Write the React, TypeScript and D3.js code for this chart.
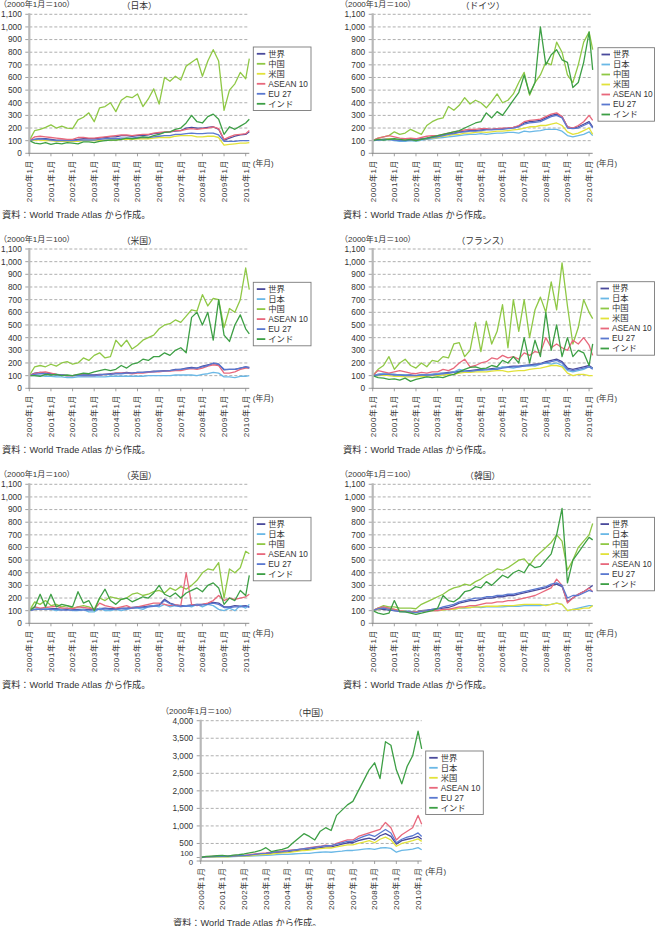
import React from 'react';
import * as d3 from 'd3';

// ---------- shared labels ----------
const SERIES_COLORS: Record<string, string> = {
  '世界': '#4a4a9c',
  '日本': '#6ab8e6',
  '中国': '#8fc845',
  '米国': '#e2e23a',
  'ASEAN 10': '#e8687c',
  'EU 27': '#5a78d0',
  'インド': '#3d9f45',
};
// data points: quarterly from 2000年1月 (month 0) to 2010年1月 (month 120), plus 2010年3月
const MONTHS: number[] = [...d3.range(0, 121, 3), 122];
const YEARS: number[] = d3.range(2000, 2011);
const YEAR_LABELS: string[] = YEARS.map((y) => `${y}年1月`);
const Y_TICKS_STD: number[] = d3.range(0, 1101, 100);
const Y_TICKS_CN: number[] = [0, 100, 500, 1000, 1500, 2000, 2500, 3000, 3500, 4000];
const Y_UNIT = '（2000年1月＝100）';
const X_UNIT = '(年月)';
const SOURCE = '資料：World Trade Atlas から作成。';

// ---------- 日本 ----------
const JP_WORLD = [100,110,115,115,110,105,105,105,105,110,115,115,115,120,125,130,130,140,140,135,140,140,145,155,160,165,170,175,180,200,205,200,200,205,210,190,105,120,135,145,150,170];
const JP_CHINA = [100,180,190,205,225,200,215,200,195,265,285,320,250,360,370,400,330,420,450,440,470,370,430,510,390,600,570,610,580,690,720,750,610,730,820,730,340,500,550,640,590,750];
const JP_US = [100,105,105,100,100,95,95,95,95,95,100,100,100,100,105,105,105,110,110,110,115,115,115,120,125,125,125,135,140,140,140,130,130,135,135,125,65,70,75,80,80,85];
const JP_ASEAN = [100,130,135,130,125,120,115,110,110,125,125,120,120,125,130,135,140,145,145,140,145,150,150,160,165,170,170,180,180,190,195,190,195,200,210,195,110,130,145,150,155,180];
const JP_EU = [100,110,115,110,105,100,100,100,100,105,105,105,105,110,115,115,115,120,120,120,125,125,125,130,135,140,140,150,150,155,160,155,155,160,160,145,95,95,95,100,100,100];
const JP_INDIA = [100,80,75,85,70,80,75,85,80,75,90,90,85,95,100,105,105,110,120,115,120,130,125,140,150,165,170,190,200,240,300,250,240,290,310,270,150,210,190,215,240,270];

// ---------- ドイツ ----------
const DE_WORLD = [100,110,110,115,110,105,105,110,110,115,120,130,135,145,155,160,170,175,180,180,185,190,190,195,195,200,205,215,240,250,255,260,280,300,310,290,210,200,210,230,250,210];
const DE_JAPAN = [100,105,105,110,100,95,95,100,95,105,110,115,120,125,130,135,140,145,150,150,155,150,155,160,160,165,165,160,175,170,175,180,190,190,190,175,140,130,140,150,170,140];
const DE_CHINA = [100,120,130,140,170,150,160,190,170,150,220,250,270,280,370,340,380,440,390,420,400,360,410,470,400,420,470,560,640,460,560,620,720,700,880,800,620,560,700,880,960,820];
const DE_US = [100,110,110,115,110,105,105,105,100,110,115,120,125,135,140,150,150,160,160,165,170,165,170,175,175,180,185,190,200,210,210,220,220,230,240,220,170,150,160,180,200,150];
const DE_ASEAN = [100,120,130,140,130,120,115,120,115,125,135,140,140,150,160,170,175,185,190,190,195,195,190,195,200,200,205,220,250,260,265,270,290,310,320,290,210,200,220,250,300,260];
const DE_EU = [100,105,110,110,105,100,100,105,105,110,115,125,130,140,150,155,165,170,175,175,180,185,185,190,190,195,200,210,230,240,245,250,270,290,300,280,200,195,200,220,240,200];
const DE_INDIA = [100,110,105,110,115,110,105,110,100,110,120,130,140,150,160,170,180,200,220,240,250,320,280,330,300,360,420,480,620,470,560,1000,700,780,820,740,720,520,560,720,960,660];

// ---------- 米国 ----------
const US_WORLD = [100,120,125,120,115,110,105,100,100,105,105,105,105,110,110,115,120,120,125,120,125,125,130,135,135,140,140,150,150,160,165,160,175,185,195,190,145,150,150,160,170,165];
const US_JAPAN = [100,100,100,95,95,90,90,85,85,90,90,90,90,90,90,95,95,95,95,95,95,95,100,100,100,100,100,105,105,105,105,100,110,115,125,120,90,90,85,95,95,100];
const US_CHINA = [100,170,180,170,190,175,200,210,190,200,240,220,260,280,240,250,380,330,380,310,340,380,400,420,470,500,510,540,520,570,620,610,740,650,710,700,480,630,600,700,950,780];
const US_ASEAN = [100,115,125,130,120,110,105,100,100,105,100,100,100,105,110,110,120,120,120,115,120,120,125,130,130,135,135,140,140,150,155,150,160,175,185,180,120,120,130,150,160,160];
const US_EU = [100,110,115,115,110,105,105,100,100,100,100,100,100,105,110,110,115,115,120,120,125,125,130,130,135,135,140,145,150,155,160,160,170,180,200,190,150,150,150,160,170,160];
const US_INDIA = [100,100,95,110,105,110,100,105,100,110,120,115,130,140,150,140,150,180,160,190,200,230,220,250,250,280,260,300,320,280,560,600,500,600,380,700,420,370,500,580,470,430];

// ---------- フランス ----------
const FR_WORLD = [100,110,115,110,110,105,105,105,100,105,105,110,115,120,125,130,135,140,140,145,150,150,155,160,165,170,175,175,180,185,190,195,210,220,230,210,160,150,160,170,180,160];
const FR_JAPAN = [100,110,120,115,110,105,105,100,100,105,110,110,115,120,115,130,150,140,130,140,140,150,145,155,170,165,160,170,175,180,175,190,200,190,200,180,140,130,140,150,170,155];
const FR_CHINA = [100,150,180,250,150,200,230,180,160,200,170,220,210,250,240,350,360,250,300,520,290,530,350,450,660,320,700,450,700,400,620,720,600,840,620,990,650,350,480,700,600,550];
const FR_US = [100,100,105,100,95,95,90,90,90,95,95,100,100,105,110,110,120,125,125,130,130,130,135,140,140,130,135,140,140,150,155,160,170,180,180,170,120,100,110,110,100,100];
const FR_ASEAN = [100,140,130,120,130,140,130,120,115,125,120,130,130,150,140,160,200,230,170,180,200,210,240,230,260,240,250,230,280,260,290,280,400,320,350,320,300,380,350,400,340,260];
const FR_EU = [100,105,110,110,105,105,100,100,100,105,105,105,110,115,120,125,130,135,135,140,145,145,150,150,160,165,170,170,175,180,185,190,200,210,220,200,150,140,150,160,170,150];
const FR_INDIA = [100,85,80,70,75,65,80,55,70,80,90,85,90,85,100,110,130,150,165,170,155,160,180,170,220,200,250,200,400,200,380,250,600,300,500,250,400,250,300,280,180,350];

// ---------- 英国 ----------
const UK_WORLD = [100,110,115,115,115,115,110,110,110,110,110,110,110,115,120,115,115,120,120,125,130,130,135,140,145,190,160,145,140,140,145,150,150,155,165,160,130,130,140,135,140,130];
const UK_JAPAN = [100,130,110,120,110,100,110,120,100,100,110,90,90,120,100,100,110,100,110,120,120,110,130,140,130,150,130,140,130,140,130,150,130,150,140,110,100,120,100,140,120,150];
const UK_CHINA = [100,170,150,180,140,150,130,140,120,130,140,130,110,200,180,210,200,190,200,230,240,220,230,250,260,240,280,260,290,270,300,340,400,430,420,480,200,430,400,440,570,550];
const UK_ASEAN = [100,130,120,125,130,135,120,120,115,130,125,120,110,160,140,130,120,130,140,120,130,140,150,160,160,150,140,145,140,400,150,140,150,160,180,220,180,200,190,200,210,230];
const UK_EU = [100,110,110,110,110,110,105,105,105,105,105,105,105,110,115,110,110,115,115,120,125,125,130,135,140,180,155,140,135,135,140,145,145,150,160,150,125,125,130,130,135,125];
const UK_INDIA = [100,130,230,130,230,130,150,140,130,250,160,180,100,200,270,180,150,190,200,170,190,210,200,240,300,230,210,240,200,240,260,280,250,300,320,280,150,200,180,260,220,380];

// ---------- 韓国 ----------
const KR_WORLD = [100,110,110,105,100,95,95,90,90,100,105,110,115,120,125,140,160,170,180,180,190,200,200,210,210,220,220,230,240,250,260,270,280,300,310,290,170,200,230,250,280,300];
const KR_JAPAN = [100,120,130,120,110,100,100,95,90,95,100,100,100,105,110,110,120,120,125,130,125,130,130,130,130,135,135,135,140,140,140,140,145,150,160,150,100,110,120,130,140,140];
const KR_CHINA = [100,120,140,130,130,120,120,120,115,150,170,190,210,230,260,280,290,310,300,330,350,380,400,430,420,440,470,500,510,460,520,560,600,640,700,650,420,500,600,650,700,790];
const KR_US = [100,110,120,115,110,100,95,90,90,95,100,100,100,105,110,110,120,125,125,130,130,135,135,135,140,140,140,145,150,150,150,150,140,150,160,150,100,110,110,120,120,140];
const KR_ASEAN = [100,120,130,120,110,100,95,90,90,95,100,100,100,110,110,120,130,130,140,140,150,160,160,170,170,180,180,190,200,210,220,240,260,280,350,300,160,200,230,250,280,250];
const KR_EU = [100,115,120,110,100,95,90,90,85,95,100,110,115,130,140,150,170,180,190,200,200,210,210,220,220,230,230,240,250,260,270,280,290,310,320,300,200,220,220,240,260,250];
const KR_INDIA = [100,80,70,80,180,90,90,80,70,80,90,100,120,220,180,170,200,250,260,290,280,330,300,340,380,360,400,420,400,470,440,450,500,550,700,910,320,500,560,620,680,660];

// ---------- 中国 ----------
const CN_WORLD = [100,115,120,125,130,130,140,150,150,160,180,190,200,220,240,250,260,280,300,320,340,360,380,400,400,440,480,520,520,580,620,650,600,720,780,700,480,580,620,650,700,620];
const CN_JAPAN = [100,110,115,115,120,120,125,130,130,140,150,155,160,170,180,190,190,200,210,220,220,240,250,260,250,270,280,300,300,320,340,350,330,370,380,360,250,300,320,340,380,320];
const CN_US = [100,110,120,120,120,120,130,140,140,150,170,180,190,200,220,230,240,260,280,300,310,330,350,370,370,400,430,460,460,500,540,580,520,620,680,600,420,500,540,580,630,560];
const CN_ASEAN = [100,120,130,140,140,140,150,160,160,180,200,220,230,250,270,290,300,320,330,350,380,400,420,450,430,500,550,600,600,700,750,800,850,900,1100,950,600,750,850,950,1300,1050];
const CN_EU = [100,115,125,130,135,135,140,150,155,170,190,210,220,240,260,270,290,310,330,350,370,390,410,440,440,480,520,560,560,640,700,750,700,800,900,800,520,620,680,720,800,700];
const CN_INDIA = [100,130,140,150,160,140,170,180,200,230,260,300,380,270,300,330,380,520,650,780,700,600,850,950,870,1300,1450,1600,1700,2000,2300,2600,2800,2350,3400,3300,2600,2200,2700,3000,3700,3200];

type Series = { name: string; values: number[] };
type PanelCfg = {
  title: string;
  left: number;
  top: number;
  bottom: number;
  width: number;
  legendX: number;
  legendY: number;
  legendW: number;
  labelX: number;
  srcX: number;
  yMax: number;
  ticks: number[];
  series: Series[];
};

const S = (name: string, values: number[]): Series => ({ name, values });

const PANELS: PanelCfg[] = [
  {
    title: '（日本）', left: 29.3, top: 14.3, bottom: 153.3, width: 220,
    legendX: 253.3, legendY: 47, legendW: 57.7, labelX: -1, srcX: 2, yMax: 1100, ticks: Y_TICKS_STD,
    series: [S('世界', JP_WORLD), S('中国', JP_CHINA), S('米国', JP_US), S('ASEAN 10', JP_ASEAN), S('EU 27', JP_EU), S('インド', JP_INDIA)],
  },
  {
    title: '（ドイツ）', left: 372.7, top: 14.3, bottom: 153.3, width: 220,
    legendX: 598, legendY: 47.7, legendW: 56.5, labelX: 340, srcX: 343, yMax: 1100, ticks: Y_TICKS_STD,
    series: [S('世界', DE_WORLD), S('日本', DE_JAPAN), S('中国', DE_CHINA), S('米国', DE_US), S('ASEAN 10', DE_ASEAN), S('EU 27', DE_EU), S('インド', DE_INDIA)],
  },
  {
    title: '（米国）', left: 29.3, top: 249, bottom: 388.3, width: 220,
    legendX: 253.3, legendY: 282.3, legendW: 57.7, labelX: -1, srcX: 2, yMax: 1100, ticks: Y_TICKS_STD,
    series: [S('世界', US_WORLD), S('日本', US_JAPAN), S('中国', US_CHINA), S('ASEAN 10', US_ASEAN), S('EU 27', US_EU), S('インド', US_INDIA)],
  },
  {
    title: '（フランス）', left: 372.7, top: 249, bottom: 388.3, width: 220,
    legendX: 597, legendY: 281.7, legendW: 57.5, labelX: 340, srcX: 343, yMax: 1100, ticks: Y_TICKS_STD,
    series: [S('世界', FR_WORLD), S('日本', FR_JAPAN), S('中国', FR_CHINA), S('米国', FR_US), S('ASEAN 10', FR_ASEAN), S('EU 27', FR_EU), S('インド', FR_INDIA)],
  },
  {
    title: '（英国）', left: 29.3, top: 484.3, bottom: 623.3, width: 220,
    legendX: 253.3, legendY: 517.3, legendW: 57.7, labelX: -1, srcX: 2, yMax: 1100, ticks: Y_TICKS_STD,
    series: [S('世界', UK_WORLD), S('日本', UK_JAPAN), S('中国', UK_CHINA), S('ASEAN 10', UK_ASEAN), S('EU 27', UK_EU), S('インド', UK_INDIA)],
  },
  {
    title: '（韓国）', left: 372.7, top: 484.3, bottom: 623.3, width: 220,
    legendX: 597, legendY: 517.3, legendW: 57.5, labelX: 340, srcX: 343, yMax: 1100, ticks: Y_TICKS_STD,
    series: [S('世界', KR_WORLD), S('日本', KR_JAPAN), S('中国', KR_CHINA), S('米国', KR_US), S('ASEAN 10', KR_ASEAN), S('EU 27', KR_EU), S('インド', KR_INDIA)],
  },
  {
    title: '（中国）', left: 200.7, top: 720.7, bottom: 861, width: 221,
    legendX: 425.7, legendY: 751, legendW: 57.6, labelX: 161, srcX: 173, yMax: 4000, ticks: Y_TICKS_CN,
    series: [S('世界', CN_WORLD), S('日本', CN_JAPAN), S('米国', CN_US), S('ASEAN 10', CN_ASEAN), S('EU 27', CN_EU), S('インド', CN_INDIA)],
  },
];

const FONT = '"Liberation Sans", "Noto Sans CJK JP", sans-serif';
const fmt = d3.format(',');

function Panel({ p }: { p: PanelCfg }) {
  const x = d3.scaleLinear().domain([0, 122]).range([p.left, p.left + p.width]);
  const y = d3.scaleLinear().domain([0, p.yMax]).range([p.bottom, p.top]);
  const line = d3
    .line<number>()
    .x((_, i) => x(MONTHS[i]))
    .y((d) => y(d));
  const right = p.left + p.width;
  const isCN = p.yMax > 2000;
  const legendH = p.series.length * 10 + 3.5;

  return (
    <g>
      {/* grid */}
      {p.ticks
        .filter((t) => t > 0 && !(isCN && t === 100))
        .map((t) => (
          <line key={'g' + t} x1={p.left} x2={right} y1={y(t)} y2={y(t)} stroke="#9a9a9a" strokeWidth={0.8} strokeDasharray="3,2" />
        ))}
      {/* y tick labels */}
      {p.ticks.map((t) => (
        <g key={'t' + t}>
          <line x1={p.left - 4} x2={p.left} y1={y(t)} y2={y(t)} stroke="#888" strokeWidth={0.8} />
          <text
            x={p.left - 7.5}
            y={y(t) + (isCN && t === 100 ? -4.5 : isCN && t === 0 ? 0.8 : 0)}
            dy="0.35em"
            textAnchor="end"
            fontSize={isCN && t <= 100 ? 7.8 : 8.3}
            fill="#333"
          >
            {fmt(t)}
          </text>
        </g>
      ))}
      {/* series */}
      {p.series.map((s) => (
        <path key={s.name} d={line(s.values) || ''} fill="none" stroke={SERIES_COLORS[s.name]} strokeWidth={1.3} strokeLinejoin="round" />
      ))}
      {/* axes */}
      <line x1={p.left} x2={p.left} y1={p.top - 1} y2={p.bottom} stroke="#b8b8b8" strokeWidth={2.2} />
      <line x1={p.left - 1} x2={right} y1={p.bottom} y2={p.bottom} stroke="#8a8a8a" strokeWidth={1} />
      {YEARS.map((yr, i) => {
        const xx = x((yr - 2000) * 12);
        return (
          <g key={'x' + yr}>
            <line x1={xx} x2={xx} y1={p.bottom} y2={p.bottom + 3} stroke="#8a8a8a" strokeWidth={0.8} />
            <text
              transform={`translate(${xx},${p.bottom + 6.5}) rotate(-90)`}
              textAnchor="end"
              dy="0.35em"
              fontSize={8}
              letterSpacing={0.6}
              fill="#333"
            >
              {YEAR_LABELS[i]}
            </text>
          </g>
        );
      })}
      <text x={right + 3.5} y={p.bottom + 10} dy="0.35em" fontSize={7.8} fill="#333">
        {X_UNIT}
      </text>
      {/* titles */}
      <text x={p.left + p.width / 2} y={p.top - 5} textAnchor="middle" fontSize={8.8} fill="#333">
        {p.title}
      </text>
      <text x={p.labelX} y={p.top - 7} fontSize={8} fill="#333">
        {Y_UNIT}
      </text>
      <text x={p.srcX} y={p.bottom + 64.5} fontSize={9.2} fill="#333">
        {SOURCE}
      </text>
      {/* legend */}
      <rect x={p.legendX} y={p.legendY} width={p.legendW} height={legendH} fill="#fff" stroke="#7a7a7a" strokeWidth={0.9} />
      {p.series.map((s, i) => {
        const ly = p.legendY + 6.8 + i * 10;
        return (
          <g key={'l' + s.name}>
            <line x1={p.legendX + 3.5} x2={p.legendX + 12} y1={ly} y2={ly} stroke={SERIES_COLORS[s.name]} strokeWidth={1.8} />
            <text x={p.legendX + 15} y={ly} dy="0.35em" fontSize={8.3} fill="#333">
              {s.name}
            </text>
          </g>
        );
      })}
    </g>
  );
}

export default function App() {
  return (
    <svg
      width={655}
      height={926}
      viewBox="0 0 655 926"
      style={{ position: 'absolute', left: 0, top: 0, background: '#fff', fontFamily: FONT }}
    >
      <rect x={0} y={0} width={655} height={926} fill="#fff" />
      {PANELS.map((p) => (
        <Panel key={p.title} p={p} />
      ))}
    </svg>
  );
}
